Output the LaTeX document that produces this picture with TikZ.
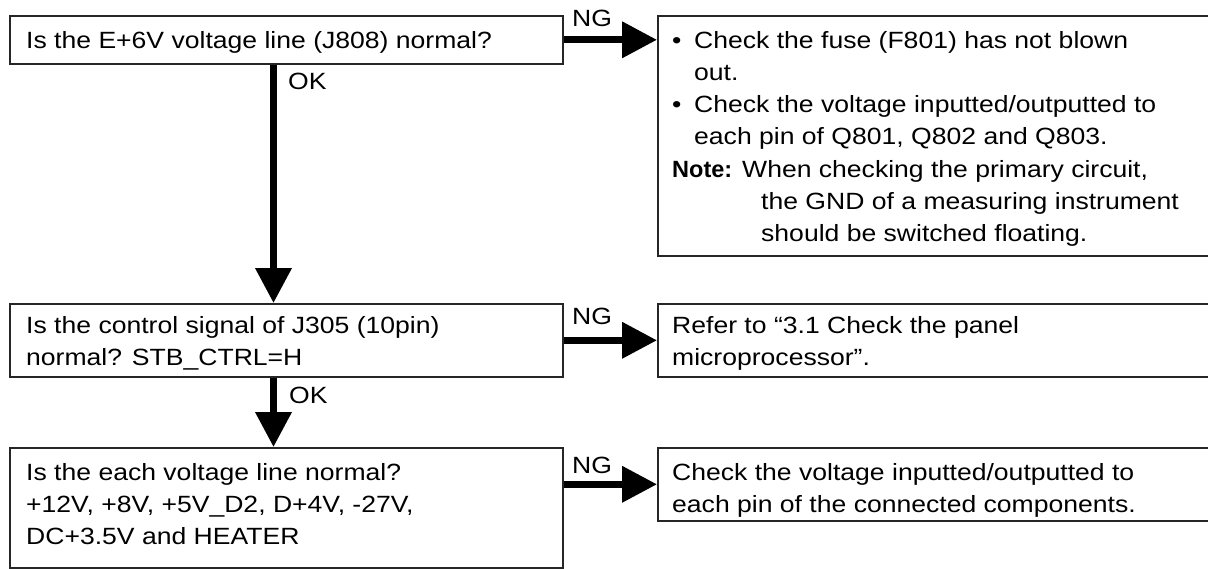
\documentclass[tikz,border=0pt]{standalone}
\usepackage{fontspec}
\setmainfont{Liberation Sans}[FakeStretch=1.13]
\newfontfamily\notefont{Liberation Sans}
\usetikzlibrary{arrows.meta}
\newcommand\tx{\fontsize{23.5pt}{32.3pt}\selectfont}
\newcommand\lines[1]{\parbox[t]{540pt}{\tx\raggedright #1}}
\begin{document}
\begin{tikzpicture}[x=1pt,y=-1pt,
  box/.style={draw=black!85, line width=1.6pt, rectangle, anchor=north west, inner sep=0pt},
  txt/.style={anchor=base west, inner sep=0pt, font=\tx},
  flow/.style={line width=7pt, -{Triangle[length=35pt,width=35pt]}},
  lbl/.style={anchor=base west, inner sep=0pt, font=\tx}]
\useasboundingbox (0,0) rectangle (1208,568);
% boxes
\node[box, minimum width=553pt, minimum height=48pt]  (b1) at (9,15) {};
\node[box, minimum width=555pt, minimum height=240pt] (b2) at (657,15) {};
\node[box, minimum width=553pt, minimum height=73pt]  (b3) at (9,303) {};
\node[box, minimum width=555pt, minimum height=73pt]  (b4) at (657,303) {};
\node[box, minimum width=553pt, minimum height=120pt] (b5) at (9,447) {};
\node[box, minimum width=555pt, minimum height=73pt]  (b6) at (657,447) {};
% texts
\node[txt] (t1) at (26,48) {Is the E+6V voltage line (J808) normal?};
\node[txt] (t2) at (672,48) {\lines{%
  \makebox[22pt][l]{•}Check the fuse (F801) has not blown\\
  \hspace*{22pt}out.\\
  \makebox[22pt][l]{•}Check the voltage inputted/outputted to\\
  \hspace*{22pt}each pin of Q801, Q802 and Q803.\\
  \makebox[70pt][l]{\notefont\bfseries Note:}When checking the primary circuit,\\
  \hspace*{89pt}the GND of a measuring instrument\\
  \hspace*{89pt}should be switched floating.}};
\node[txt] (t3) at (26,333) {\lines{Is the control signal of J305 (10pin)\\normal? STB\_CTRL=H}};
\node[txt] (t4) at (672,333) {\lines{Refer to “3.1 Check the panel\\microprocessor”.}};
\node[txt] (t5) at (26,480) {\lines{Is the each voltage line normal?\\+12V, +8V, +5V\_D2, D+4V, -27V,\\DC+3.5V and HEATER}};
\node[txt] (t6) at (672,480) {\lines{Check the voltage inputted/outputted to\\each pin of the connected components.}};
% connectors
\coordinate (ax) at (273.5,0);
\draw[flow] (b1.east) -- (b1.east -| b2.west);
\draw[flow] (b3.east) -- (b3.east -| b4.west);
\draw[flow] (b5.east |- b6.west) -- (b6.west);
\draw[flow] (b1.south -| ax) -- (b3.north -| ax);
\draw[flow] (b3.south -| ax) -- (b5.north -| ax);
% labels
\node[lbl] (ng1) at (572,26) {NG};
\node[lbl] (ng2) at (572,324) {NG};
\node[lbl] (ng3) at (572,473) {NG};
\node[lbl] (ok1) at (288,89) {OK};
\node[lbl] (ok2) at (289,403) {OK};
\end{tikzpicture}
\end{document}
